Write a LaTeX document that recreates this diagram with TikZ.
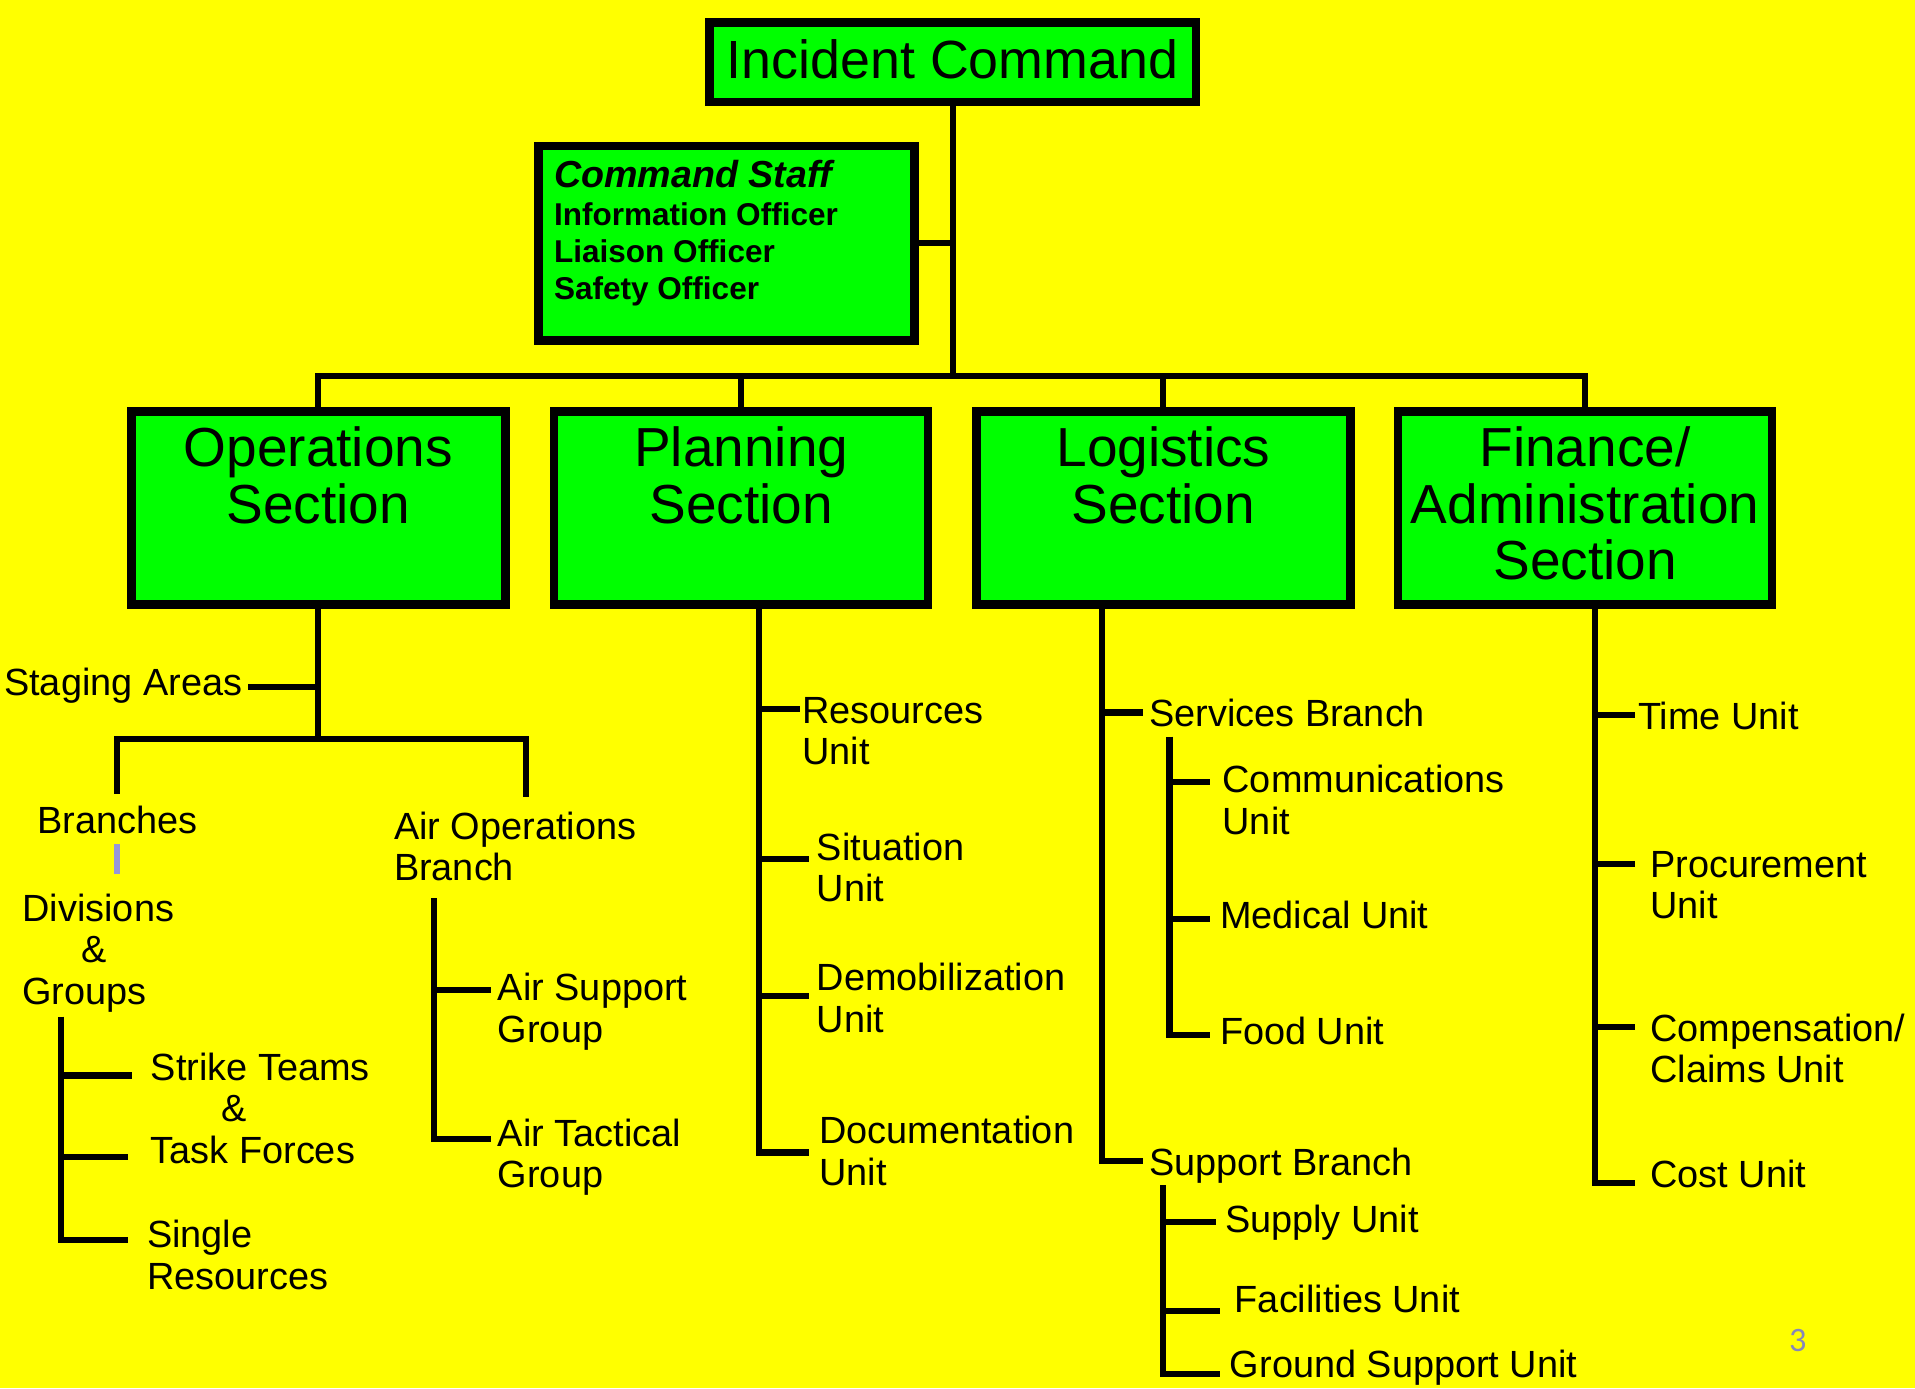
\documentclass[tikz,border=0pt]{standalone}
\usepackage{fontspec}
\setmainfont{Liberation Sans}
\newfontfamily\pagefont{Carlito}
\definecolor{icsyellow}{RGB}{255,255,0}
\definecolor{icsgreen}{RGB}{0,255,0}
\definecolor{markblue}{RGB}{150,150,215}
\definecolor{pagegrey}{RGB}{135,135,185}
\begin{document}
\begin{tikzpicture}[x=0.5pt, y=-0.5pt,
	link/.style={line width=2.5pt, black},
	divmark/.style={line width=2.5pt, markblue},
	box/.style={draw=black, line width=3.5pt, fill=icsgreen, inner sep=0pt},
	sect/.style={anchor=north, inner sep=0pt, yshift=-8pt, align=center, font=\fontsize{22.5}{23}\selectfont},
	staff/.style={anchor=north west, inner sep=0pt, xshift=8pt, yshift=-7.5pt, align=left, font=\bfseries\fontsize{12.9}{15.2}\selectfont},
	unit/.style={anchor=north west, inner sep=0pt, align=left, font=\fontsize{15.5}{17}\selectfont}]
	% Nền
	\fill[icsyellow] (0,0) rectangle (1567,1136);
	\useasboundingbox (0,0) rectangle (1567,1136);
	% Các ô chỉ huy
	\node[box, minimum width=199pt, minimum height=32.5pt, text depth=3pt, font=\fontsize{22}{24}\selectfont] (ic) at (779.5,51) {Incident Command};
	\node[box, minimum width=154pt, minimum height=79.5pt,
		label={[staff]north west:{{\fontsize{15.4}{15.2}\selectfont\itshape Command Staff}\\Information Officer\\Liaison Officer\\Safety Officer}}] (staff) at (594.5,199) {};
	\foreach \n/\x/\t in {ops/260.5/{Operations\\Section}, plan/606.5/{Planning\\Section}, logi/952/{Logistics\\Section}, fin/1297/{Finance/\\Administration\\Section}}
	\node[box, minimum width=153pt, minimum height=79pt, label={[sect]north:\t}] (\n) at (\x,415.5) {};
	% Đường nối chính
	\coordinate (bus) at (779.5,308);
	\draw[link] (ic.south) -- (bus);
	\draw[link] (staff.east) -- (staff.east -| bus);
	\foreach \n in {ops,plan,logi,fin}
	\draw[link] (bus) -| (\n.north);
	% Operations
	\coordinate (opsbus) at (260.5,605);
	\coordinate (dv0) at (50,832);
	\coordinate (ao0) at (355,735);
	\node[unit] (stag) at (3,546) {Staging Areas};
	\node[unit] (branch) at (30,659) {Branches};
	\node[unit] (airops) at (322,664) {Air Operations\\Branch};
	\node[unit] (div) at (18,731) {Divisions\\\hspace*{24pt}\&\\Groups};
	\node[unit] (strike) at (123,861) {Strike Teams\\\hspace*{29pt}\&\\Task Forces};
	\node[unit] (single) at (120,998) {Single\\Resources};
	\node[unit] (airsup) at (407,796) {Air Support\\Group};
	\node[unit] (airtac) at (407,915) {Air Tactical\\Group};
	\draw[link] (ops.south) -- (opsbus);
	\draw[link, shorten >=2pt] (opsbus) |- ([yshift=-8pt]stag.north east);
	\draw[link, shorten >=4.5pt] (opsbus) -| (branch.north);
	\draw[link, shorten >=6pt] (opsbus) -| ([xshift=4.5pt]airops.north);
	\draw[divmark, shorten <=4pt, shorten >=8pt] (branch.south) -- (branch.south |- div.north);
	\foreach \n/\d/\g in {strike/9.5pt/7.5pt, strike/43pt/9pt, single/8.5pt/7.5pt}
	\draw[link, shorten >=\g] (dv0) |- ([yshift=-\d]\n.north west);
	\foreach \n/\d/\g in {airsup/7pt/2.5pt, airtac/8.5pt/2.5pt}
	\draw[link, shorten >=\g] (ao0) |- ([yshift=-\d]\n.north west);
	% Planning
	\coordinate (pl0) at (621,495);
	\node[unit] (res) at (656,570) {Resources\\Unit};
	\node[unit] (sit) at (668,681) {Situation\\Unit};
	\node[unit] (demob) at (668,788) {Demobilization\\Unit};
	\node[unit] (doc) at (670,913) {Documentation\\Unit};
	\foreach \n/\d/\g in {res/5pt/0.5pt, sit/11pt/3pt, demob/13.5pt/3pt, doc/15pt/4pt}
	\draw[link, shorten >=\g] (pl0) |- ([yshift=-\d]\n.north west);
	% Logistics
	\coordinate (lg0) at (902,495);
	\coordinate (sv0) at (957,603);
	\coordinate (sp0) at (952,970);
	\node[unit] (serv) at (940,572) {Services Branch};
	\node[unit] (supb) at (940,939) {Support Branch};
	\node[unit] (comm) at (1000,626) {Communications\\Unit};
	\node[unit] (med) at (998,737) {Medical Unit};
	\node[unit] (food) at (998,832) {Food Unit};
	\node[unit] (supply) at (1002,986) {Supply Unit};
	\node[unit] (fac) at (1010,1051) {Facilities Unit};
	\node[unit] (gsu) at (1006,1104) {Ground Support Unit};
	\foreach \n/\d/\g in {serv/5.5pt/2.5pt, supb/5.5pt/2.5pt}
	\draw[link, shorten >=\g] (lg0) |- ([yshift=-\d]\n.north west);
	\foreach \n/\d/\g in {comm/7pt/5pt, med/7.5pt/4pt, food/7.5pt/4pt}
	\draw[link, shorten >=\g] (sv0) |- ([yshift=-\d]\n.north west);
	\foreach \n/\d/\g in {supply/7pt/3.5pt, fac/11pt/6pt, gsu/10pt/4pt}
	\draw[link, shorten >=\g] (sp0) |- ([yshift=-\d]\n.north west);
	% Finance/Administration
	\coordinate (fn0) at (1305,495);
	\node[unit] (time) at (1340,574) {Time Unit};
	\node[unit] (proc) at (1350,696) {Procurement\\Unit};
	\node[unit] (comp) at (1350,829) {Compensation/\\Claims Unit};
	\node[unit] (cost) at (1350,949) {Cost Unit};
	\foreach \n/\d/\g in {time/5.5pt/1pt, proc/5.5pt/6pt, comp/5.5pt/6pt, cost/9.5pt/6pt}
	\draw[link, shorten >=\g] (fn0) |- ([yshift=-\d]\n.north west);
	% Số trang
	\node[font=\pagefont\fontsize{14}{14}\selectfont, text=pagegrey] (pnum) at (1471,1097) {3};
\end{tikzpicture}
\end{document}
